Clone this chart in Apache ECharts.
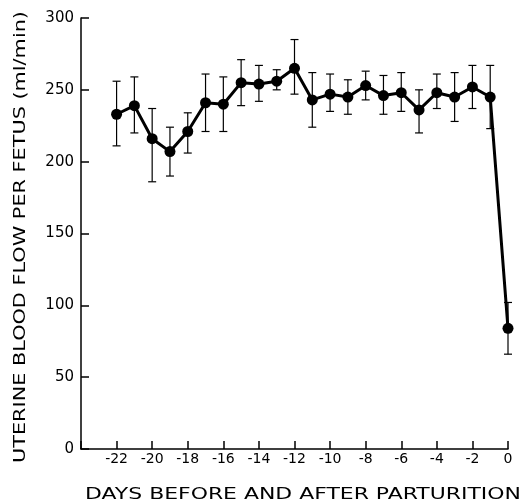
<!DOCTYPE html>
<html>
<head>
<meta charset="utf-8">
<script src="https://cdn.jsdelivr.net/npm/echarts@6/dist/echarts.min.js"></script>
<style>html,body{margin:0;padding:0;background:#fff;}#c{width:524px;height:503px;}</style>
</head>
<body>
<div id="c"></div>
<script>
var days = [-22,-21,-20,-19,-18,-17,-16,-15,-14,-13,-12,-11,-10,-9,-8,-7,-6,-5,-4,-3,-2,-1,0];
var flow = [233,239,216,207,221,241,240,255,254,256,265,243,247,245,253,246,248,236,248,245,252,245,84];
var errHigh = [256,259,237,224,234,261,259,271,267,264,285,262,261,257,263,260,262,250,261,262,267,267,102];
var errLow = [211,220,186,190,206,221,221,239,242,250,247,224,235,233,243,233,235,220,237,228,237,223,66];
var yTicks = [0,50,100,150,200,250,300];
var xTickLabels = ['-22','-20','-18','-16','-14','-12','-10','-8','-6','-4','-2','0'];
var xTitle = 'DAYS BEFORE AND AFTER PARTURITION';
var yTitle = 'UTERINE BLOOD FLOW PER FETUS (ml/min)';

var lineData = days.map(function(d,i){return [d, flow[i]];});
var errData = days.map(function(d,i){return [d, errLow[i], errHigh[i]];});

var chart = echarts.init(document.getElementById('c'));
var font = 'DejaVu Sans';
chart.setOption({
  animation: false,
  backgroundColor: '#fff',
  grid: {left: 81, right: 16, top: 18, bottom: 54},
  graphic: [
    {type: 'text', x: 303, y: 495, scaleX: 1.37,
     style: {text: xTitle, fontFamily: font, fontSize: 16, fill: '#000', align: 'center', verticalAlign: 'middle'}},
    {type: 'text', x: 21, y: 237, rotation: Math.PI/2, scaleX: 1.3,
     style: {text: yTitle, fontFamily: font, fontSize: 16, fill: '#000', align: 'center', verticalAlign: 'middle'}}
  ],
  xAxis: {
    type: 'value', min: -24, max: 0, interval: 2,
    axisLine: {lineStyle: {color: '#000', width: 1.5}},
    axisTick: {inside: true, length: 8, lineStyle: {color: '#000', width: 1.5}},
    axisLabel: {
      fontFamily: font, fontSize: 14, color: '#000', margin: 3,
      formatter: function(v){ var s = String(v); return xTickLabels.indexOf(s) >= 0 ? s : ''; }
    },
    splitLine: {show: false}
  },
  yAxis: {
    type: 'value', min: 0, max: 300, interval: 50,
    axisLine: {show: true, onZero: false, lineStyle: {color: '#000', width: 1.5}},
    axisTick: {show: true, inside: true, length: 8, lineStyle: {color: '#000', width: 1.5}},
    axisLabel: {
      fontFamily: font, fontSize: 15, color: '#000', margin: 7,
      formatter: function(v){ return yTicks.indexOf(v) >= 0 ? String(v) : ''; }
    },
    splitLine: {show: false}
  },
  series: [
    {
      type: 'custom',
      data: errData,
      renderItem: function(params, api){
        var x = api.value(0);
        var lo = api.coord([x, api.value(1)]);
        var hi = api.coord([x, api.value(2)]);
        var w = 4;
        var st = {stroke: '#000', lineWidth: 1.2};
        return {type: 'group', children: [
          {type: 'line', shape: {x1: lo[0], y1: lo[1], x2: hi[0], y2: hi[1]}, style: st},
          {type: 'line', shape: {x1: lo[0]-w, y1: lo[1], x2: lo[0]+w, y2: lo[1]}, style: st},
          {type: 'line', shape: {x1: hi[0]-w, y1: hi[1], x2: hi[0]+w, y2: hi[1]}, style: st}
        ]};
      },
      z: 1
    },
    {
      type: 'line',
      data: lineData,
      symbol: 'circle', symbolSize: 11,
      lineStyle: {color: '#000', width: 3},
      itemStyle: {color: '#000'},
      z: 2
    }
  ]
});
</script>
</body>
</html>
